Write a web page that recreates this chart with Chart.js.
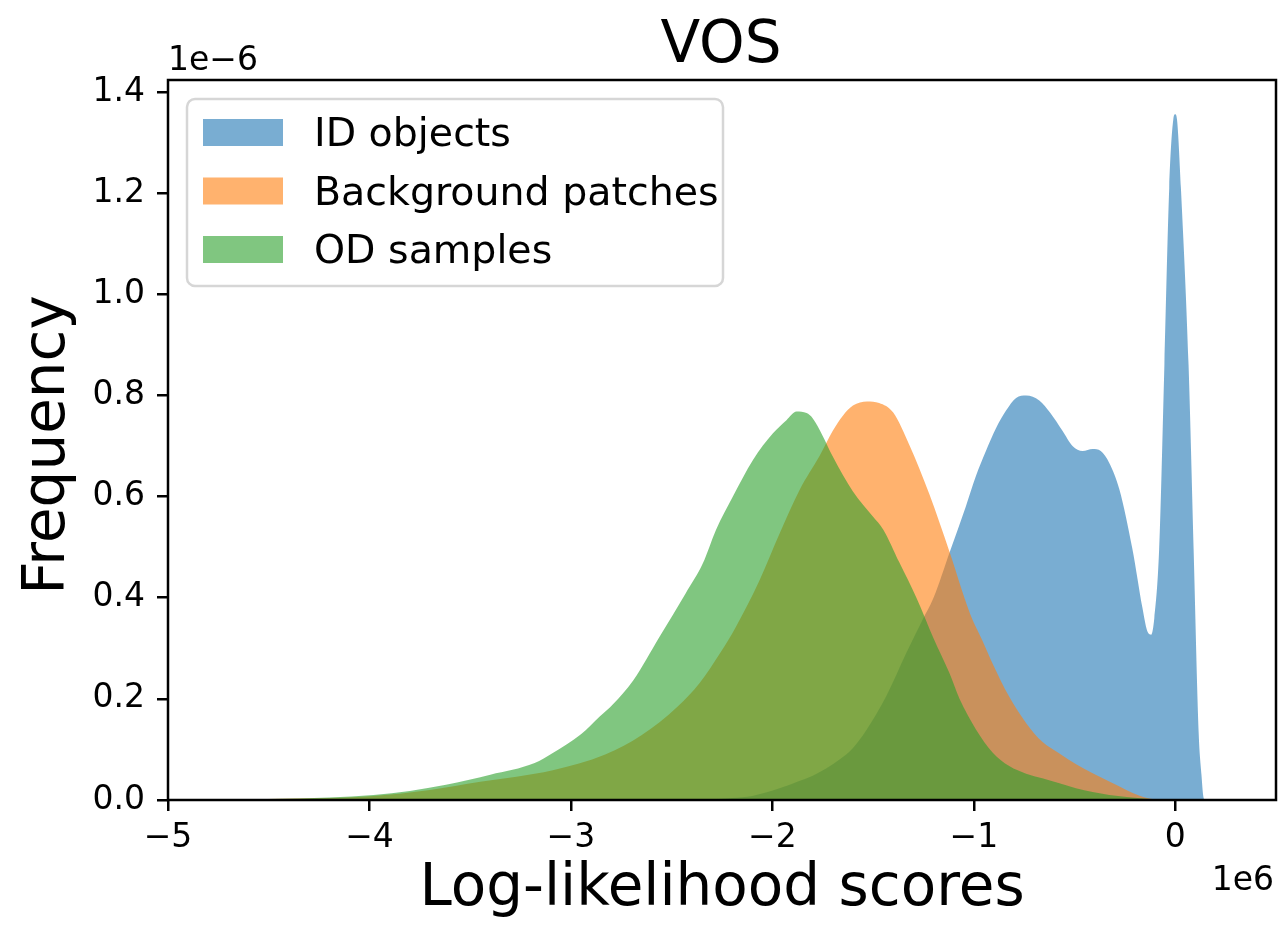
<!DOCTYPE html>
<html><head><meta charset="utf-8">
<script src="https://cdn.jsdelivr.net/npm/chart.js@4.4.1/dist/chart.umd.min.js"></script>
<style>html,body{margin:0;padding:0;background:#fff;}#wrap{width:1280px;height:926px;position:relative;}</style>
</head><body><div id="wrap"><canvas id="c"></canvas></div>
<script>
// ---- data (x in units of 1e6, y in units of 1e-6) ----
const seriesLabels = ['ID objects', 'Background patches', 'OD samples'];
const seriesColors = ['rgba(31,119,180,0.6)', 'rgba(255,127,14,0.6)', 'rgba(44,160,44,0.6)'];

const idX = [-2.35,-2.2,-2.1,-1.965,-1.87,-1.8,-1.667,-1.6,-1.534,-1.435,-1.336,-1.255,-1.2,-1.12,-1.04,-0.99,-0.94,-0.89,-0.84,-0.79,-0.74,-0.675,-0.62,-0.56,-0.51,-0.46,-0.41,-0.37,-0.327,-0.278,-0.213,-0.163,-0.14,-0.12,-0.104,-0.08,-0.054,-0.03,-0.01,0.0,0.01,0.028,0.066,0.091,0.116,0.13,0.139,0.145];
const idY = [0,0.004,0.008,0.023,0.037,0.048,0.08,0.103,0.138,0.205,0.29,0.356,0.40,0.49,0.58,0.64,0.69,0.735,0.77,0.795,0.80,0.79,0.765,0.73,0.70,0.69,0.694,0.69,0.666,0.615,0.497,0.38,0.335,0.327,0.36,0.497,0.86,1.21,1.345,1.356,1.34,1.21,0.86,0.497,0.134,0.05,0.008,0];

const bgX = [-4.6,-4.51,-4.2,-3.98,-3.7,-3.45,-3.09,-2.83,-2.65,-2.47,-2.36,-2.26,-2.18,-2.063,-1.964,-1.865,-1.766,-1.7,-1.65,-1.6,-1.53,-1.47,-1.4,-1.32,-1.22,-1.12,-1.02,-0.957,-0.907,-0.824,-0.74,-0.66,-0.575,-0.49,-0.41,-0.32,-0.243,-0.18,-0.13,-0.08];
const bgY = [0,0.002,0.004,0.008,0.02,0.036,0.059,0.09,0.128,0.185,0.232,0.29,0.343,0.435,0.527,0.613,0.68,0.73,0.76,0.78,0.788,0.785,0.766,0.702,0.604,0.49,0.37,0.315,0.27,0.204,0.152,0.115,0.092,0.07,0.053,0.035,0.02,0.009,0.003,0];

const odX = [-4.75,-4.5,-4.2,-3.98,-3.8,-3.62,-3.4,-3.18,-3.09,-2.95,-2.857,-2.79,-2.69,-2.56,-2.43,-2.345,-2.28,-2.196,-2.097,-1.997,-1.93,-1.88,-1.83,-1.8,-1.75,-1.7,-1.6,-1.5,-1.45,-1.37,-1.285,-1.2,-1.12,-1.071,-0.99,-0.907,-0.824,-0.74,-0.66,-0.575,-0.493,-0.41,-0.327,-0.24,-0.16,-0.05];
const odY = [0,0.002,0.005,0.01,0.018,0.03,0.05,0.073,0.093,0.13,0.165,0.19,0.237,0.323,0.409,0.468,0.534,0.60,0.672,0.725,0.751,0.768,0.765,0.755,0.72,0.679,0.61,0.56,0.535,0.47,0.40,0.32,0.25,0.20,0.14,0.094,0.067,0.052,0.043,0.033,0.023,0.016,0.01,0.006,0.003,0];

const xTicks = [-5,-4,-3,-2,-1,0];
const xTickLabels = ['\u22125','\u22124','\u22123','\u22122','\u22121','0'];
const yTicks = [0,0.2,0.4,0.6,0.8,1.0,1.2,1.4];
const yTickLabels = ['0.0','0.2','0.4','0.6','0.8','1.0','1.2','1.4'];

const titleText = 'VOS';
const xTitle = 'Log-likelihood scores';
const yTitle = 'Frequency';
const xOffsetText = '1e6';
const yOffsetText = '1e\u22126';

// ---- build ----
const FONT = '"DejaVu Sans", sans-serif';
function pts(xs, ys){ return xs.map((x,i)=>({x:x, y:ys[i]})); }
const allX = [idX, bgX, odX], allY = [idY, bgY, odY];
const orders = [3,2,1]; // green drawn on top, blue at bottom
const datasets = seriesLabels.map((lab,i)=>({
  label: lab,
  data: pts(allX[i], allY[i]),
  backgroundColor: seriesColors[i],
  borderColor: 'rgba(0,0,0,0)',
  borderWidth: 0,
  fill: 'origin',
  pointRadius: 0,
  cubicInterpolationMode: 'monotone',
  order: orders[i]
}));

function labelFor(v, ticks, labels){
  for (let i=0;i<ticks.length;i++) if (Math.abs(ticks[i]-v)<1e-9) return labels[i];
  return '';
}

const decor = {
  id: 'decor',
  afterDraw(chart){
    const ctx = chart.ctx, a = chart.chartArea;
    ctx.save();
    ctx.strokeStyle = '#000'; ctx.lineWidth = 2.5;
    ctx.strokeRect(a.left, a.top, a.right - a.left, a.bottom - a.top);
    ctx.fillStyle = '#000';
    ctx.font = '58px ' + FONT; ctx.textAlign = 'center'; ctx.textBaseline = 'alphabetic';
    const cx = (a.left + a.right) / 2;
    ctx.fillText(titleText, cx - 1, 62);
    ctx.fillText(xTitle, cx, 905);
    ctx.save(); ctx.translate(64, 445); ctx.rotate(-Math.PI/2); ctx.fillText(yTitle, 0, 0); ctx.restore();
    ctx.font = '33px ' + FONT;
    ctx.textAlign = 'left'; ctx.fillText(yOffsetText, a.left, 70);
    ctx.textAlign = 'right'; ctx.fillText(xOffsetText, a.right - 2, 890);
    // legend
    const lx = a.left + 19, ly = a.top + 19, lw = 536, lh = 187, r = 8;
    ctx.beginPath();
    ctx.moveTo(lx + r, ly); ctx.lineTo(lx + lw - r, ly); ctx.arcTo(lx + lw, ly, lx + lw, ly + r, r);
    ctx.lineTo(lx + lw, ly + lh - r); ctx.arcTo(lx + lw, ly + lh, lx + lw - r, ly + lh, r);
    ctx.lineTo(lx + r, ly + lh); ctx.arcTo(lx, ly + lh, lx, ly + lh - r, r);
    ctx.lineTo(lx, ly + r); ctx.arcTo(lx, ly, lx + r, ly, r); ctx.closePath();
    ctx.fillStyle = 'rgba(255,255,255,0.8)'; ctx.fill();
    ctx.strokeStyle = '#d6d6d6'; ctx.lineWidth = 2.5; ctx.stroke();
    ctx.font = '39.5px ' + FONT; ctx.textAlign = 'left'; ctx.textBaseline = 'alphabetic';
    chart.data.datasets.forEach((ds, i) => {
      const base = ly + 47 + i * 58.5;
      ctx.fillStyle = ds.backgroundColor;
      ctx.fillRect(lx + 16, base - 27, 80, 27);
      ctx.fillStyle = '#000';
      ctx.fillText(ds.label, lx + 127, base);
    });
    ctx.restore();
  }
};

new Chart(document.getElementById('c'), {
  type: 'line',
  data: { datasets: datasets },
  options: {
    responsive: true, maintainAspectRatio: false, animation: false,
    layout: { padding: { top: 80, right: 4, bottom: 0, left: 0 } },
    plugins: { legend: { display: false }, title: { display: false }, tooltip: { enabled: false } },
    elements: { line: { borderWidth: 0 } },
    scales: {
      x: {
        type: 'linear', min: -5, max: 0.5,
        afterBuildTicks: s => { s.ticks = xTicks.map(v => ({ value: v })); },
        afterFit: s => { s.height = 126; },
        border: { display: false },
        grid: { drawOnChartArea: false, drawTicks: true, tickLength: 11, color: '#000', lineWidth: 2.5 },
        ticks: { color: '#000', font: { family: FONT, size: 33 }, padding: 8, maxRotation: 0, autoSkip: false,
                 callback: v => labelFor(v, xTicks, xTickLabels) }
      },
      y: {
        type: 'linear', min: 0, max: 1.4237,
        afterBuildTicks: s => { s.ticks = yTicks.map(v => ({ value: v })); },
        afterFit: s => { s.width = 168; },
        border: { display: false },
        grid: { drawOnChartArea: false, drawTicks: true, tickLength: 11, color: '#000', lineWidth: 2.5 },
        ticks: { color: '#000', font: { family: FONT, size: 33 }, padding: 12, autoSkip: false,
                 callback: v => labelFor(v, yTicks, yTickLabels) }
      }
    }
  },
  plugins: [decor]
});
</script>
</body></html>
